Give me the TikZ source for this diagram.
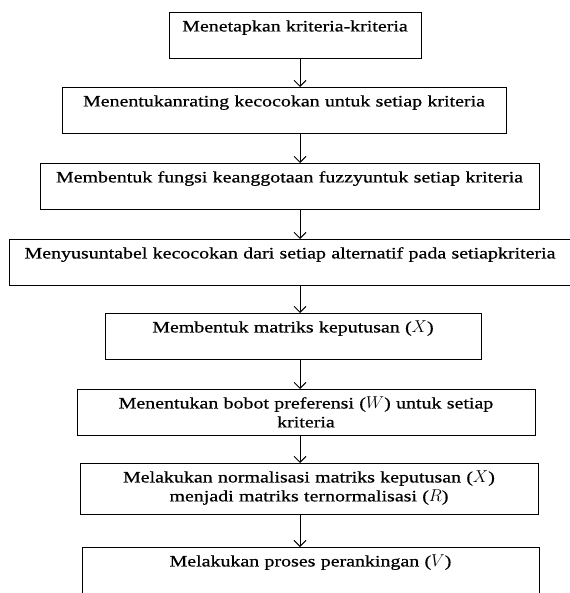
\documentclass[tikz,border=0pt]{standalone}
\usepackage{fontspec}
\setmainfont[FakeStretch=1.25,FakeBold=0.6]{Liberation Serif}
\usetikzlibrary{arrows.meta}

\begin{document}
\begin{tikzpicture}[x=1bp, y=-1bp,
  >={Straight Barb[length=6bp,width=12bp]},
  box/.style={draw, line width=0.9bp, anchor=north, align=center,
    inner xsep=0pt, inner ysep=8bp, text height=11bp, text depth=19bp,
    font=\fontsize{16}{19}\selectfont}]

\useasboundingbox (0,0) rectangle (570,593);

\node[box, text width=252bp] (b1) at (295,12) {Menetapkan kriteria-kriteria};
\node[box, text width=444bp] (b2) at (284,87) {Menentukanrating kecocokan untuk setiap kriteria};
\node[box, text width=499bp] (b3) at (289.5,163) {Membentuk fungsi keanggotaan fuzzyuntuk setiap kriteria};
\node[box, text width=562bp] (b4) at (290,239) {Menyusuntabel kecocokan dari setiap alternatif pada setiapkriteria};
\node[box, text width=376bp] (b5) at (293,313) {Membentuk matriks keputusan ($X$)};
\node[box, text width=458bp] (b6) at (306,389) {Menentukan bobot preferensi ($W$) untuk setiap\\ kriteria};
\node[box, text width=458bp, text depth=24bp] (b7) at (309,463) {Melakukan normalisasi matriks keputusan ($X$)\\ menjadi matriks ternormalisasi ($R$)};
\node[box, text width=457bp, text depth=22bp] (b8) at (310.5,547) {Melakukan proses perankingan ($V$)};

\coordinate (ax) at (300,0);
\foreach \a/\b in {b1/b2, b2/b3, b3/b4, b4/b5, b5/b6, b6/b7, b7/b8} {
 \draw[->, line width=0.9bp] (\a.south -| ax) -- (\b.north -| ax);
}
\end{tikzpicture}
\end{document}
